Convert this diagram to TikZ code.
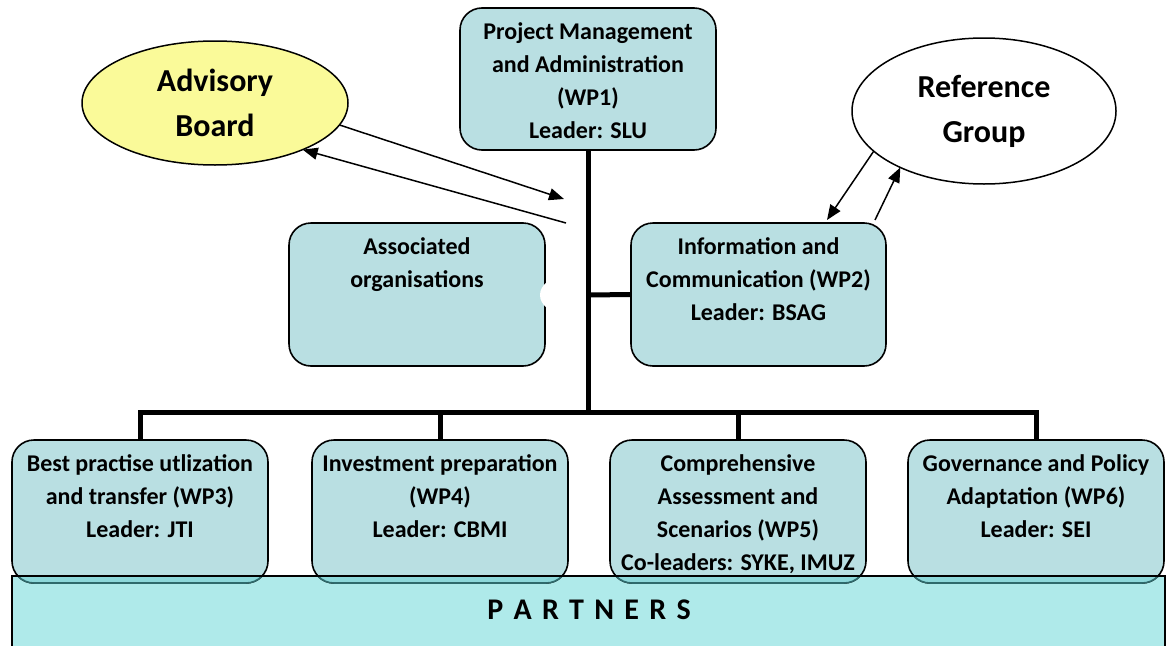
\documentclass[tikz,border=0pt]{standalone}
\usepackage{fontspec}
\setmainfont{Carlito}
\usetikzlibrary{shapes.geometric,arrows.meta}
\definecolor{wpfill}{HTML}{B9DFE2}
\definecolor{advfill}{HTML}{FAFA99}
\definecolor{partfill}{HTML}{AFEAEA}
\definecolor{lapfill}{HTML}{8DD8DA}
\definecolor{lapline}{HTML}{2F6A6C}

\begin{document}
\begin{tikzpicture}[x=1pt,y=-1pt,
  wpbox/.style={draw=black, line width=1.6pt, fill=wpfill, rounded corners=22pt,
    minimum width=256pt, minimum height=143pt, inner sep=0pt, outer sep=0pt, anchor=north west},
  wptext/.style={anchor=north, align=center, inner sep=0pt,
    font=\fontsize{24}{33}\selectfont\bfseries},
  bubble/.style={ellipse, draw=black, line width=1.5pt, inner sep=0pt, outer sep=0pt,
    align=center, font=\fontsize{32}{45}\selectfont\bfseries},
  trunk/.style={line width=5pt, line join=miter},
  flow/.style={line width=1.5pt, -{Triangle[length=15pt,width=12pt]}},
  lapbox/.style={line width=1.6pt, draw=lapline, fill=lapfill, rounded corners=22pt},
]
\useasboundingbox (0,0) rectangle (1169,645);

% partners band (filled first, outline drawn after the work packages)
\node[fill=partfill, minimum width=1153pt, minimum height=90pt, inner sep=0pt, outer sep=0pt,
  anchor=north west] (partners) at (12,576) {};

% advisory board and reference group
\node[bubble, fill=advfill, minimum width=266pt, minimum height=124pt] (adv) at (215,103) {Advisory\\Board};
\node[bubble, fill=white, minimum width=264pt, minimum height=146pt] (ref) at (984,111) {Reference\\Group};

% work package boxes
\node[wpbox, minimum height=142pt] (wp1) at (460,8) {};
\node[wpbox] (assoc) at (289,223) {};
\node[wpbox, minimum width=255pt] (wp2) at (631,223) {};
\node[wpbox] (wp3) at (12,440) {};
\node[wpbox] (wp4) at (312,440) {};
\node[wpbox] (wp5) at (610,440) {};
\node[wpbox] (wp6) at (908,440) {};

\node[wptext] (wp1t) at ([yshift=-14.5pt]wp1.north) {Project Management\\and Administration\\(WP1)\\Leader: SLU};
\node[wptext] (assoct) at ([yshift=-14.5pt]assoc.north) {Associated\\organisations};
\node[wptext] (wp2t) at ([yshift=-14.5pt]wp2.north) {Information and\\Communication (WP2)\\Leader: BSAG};
\node[wptext] (wp3t) at ([yshift=-14.5pt]wp3.north) {Best practise utlization\\and transfer (WP3)\\Leader: JTI};
\node[wptext] (wp4t) at ([yshift=-14.5pt]wp4.north) {Investment preparation\\(WP4)\\Leader: CBMI};
\node[wptext] (wp5t) at ([yshift=-14.5pt]wp5.north) {Comprehensive\\Assessment and\\Scenarios (WP5)\\Co-leaders: SYKE, IMUZ};
\node[wptext] (wp6t) at ([yshift=-14.5pt]wp6.north) {Governance and Policy\\Adaptation (WP6)\\Leader: SEI};

% lower parts of the work packages seen through the partners band
\begin{scope}
  \clip (partners.south west) rectangle (partners.north east);
  \foreach \b in {wp3,wp4,wp5,wp6}
    \draw[lapbox] (\b.south west) rectangle (\b.north east);
\end{scope}
\draw[line width=1.6pt] (partners.south west) rectangle (partners.north east);
\node[font=\fontsize{30}{36}\selectfont\bfseries, inner sep=0pt] (partlabel) at (589,610)
  {\spaceskip=10.3pt P A R T N E R S};

% organisational trunk
\node[ellipse, fill=white, minimum width=46pt, minimum height=36pt, inner sep=0pt] (gap) at (563,295) {};
\coordinate (hub) at (588,295);
\coordinate (bar) at (588,412);
\draw[trunk] (wp1.south) -- (bar);
\draw[trunk] (hub) -- (wp2.west);
\draw[trunk] (wp3.north) |- (bar) -| (wp6.north);
\draw[trunk] (wp4.north) -- (wp4.north |- bar);
\draw[trunk] (wp5.north) -- (wp5.north |- bar);

% advisory and reference flows
\coordinate (advin) at (564,199);
\coordinate (advout) at (566,223);
\draw[flow] (adv.-10) -- (advin);
\draw[flow] (advout) -- (adv.-28);
\coordinate (refin) at (827,220);
\coordinate (refout) at (875,220);
\draw[flow] (ref.200) -- (refin);
\draw[flow] (refout) -- (ref.214);
\end{tikzpicture}
\end{document}
